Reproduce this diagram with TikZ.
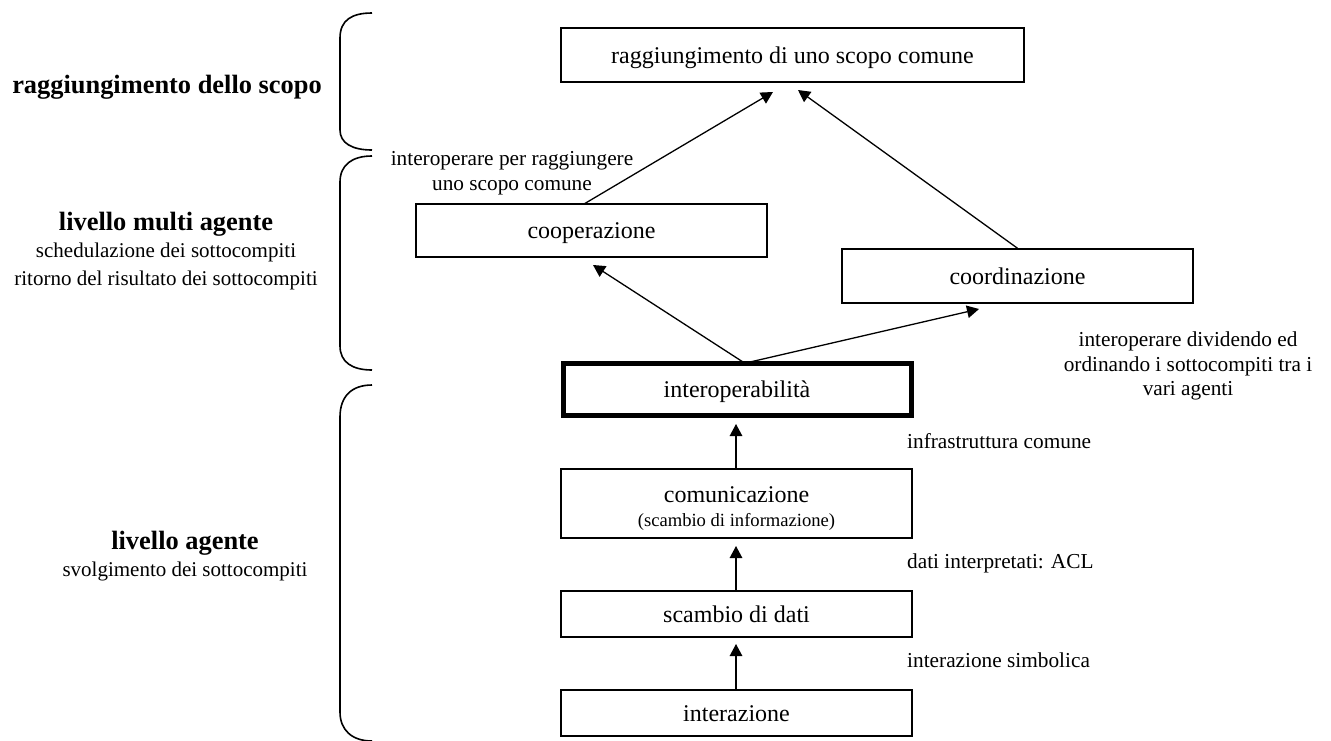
\documentclass[tikz,border=0pt]{standalone}
\usepackage{fontspec}
\setmainfont{Liberation Serif}
\usetikzlibrary{arrows.meta}
\tikzset{
  box/.style={draw, line width=1.5pt, inner sep=0pt, text height=16pt, text depth=0pt, font=\fontsize{24}{28}\selectfont},
  thickbox/.style={box, line width=5pt},
  lbl/.style={inner sep=0pt, font=\fontsize{21.3}{24.5}\selectfont, align=center},
  head/.style={inner sep=0pt, font=\fontsize{21}{27.5}\selectfont, align=center},
  arr/.style={line width=1.3pt, -{Triangle[length=12pt,width=12.5pt]}},
  brace/.style={line width=1.6pt}
}
\begin{document}
\begin{tikzpicture}[x=1pt,y=-1pt]
\useasboundingbox (0,0) rectangle (1331,740);

% boxes
\node[box, minimum width=463pt, minimum height=54pt] (goal) at (792.5,55) {raggiungimento di uno scopo comune};
\node[box, minimum width=351pt, minimum height=53pt] (coop) at (591.5,230.5) {cooperazione};
\node[box, minimum width=351pt, minimum height=54pt] (coord) at (1017.5,276) {coordinazione};
\node[thickbox, minimum width=348pt, minimum height=52pt] (interop) at (737,389.5) {interoperabilità};
\node[box, minimum width=351pt, minimum height=69pt] (comm) at (736.5,503.5) {};
\node[inner sep=0pt, align=center, font=\fontsize{24}{28}\selectfont] (commtxt) at (736.5,508.5) {comunicazione\\[-4pt]{\fontsize{18.6}{20}\selectfont (scambio di informazione)}};
\node[box, minimum width=351pt, minimum height=46pt] (data) at (736.5,614) {scambio di dati};
\node[box, minimum width=351pt, minimum height=46pt] (inter) at (736.5,713) {interazione};

% arrow end coordinates
\coordinate (t1) at (773,92);
\coordinate (t2) at (798,90);
\coordinate (s1) at (584,204);
\coordinate (t3) at (593,265);
\coordinate (t4) at (979,309);
\coordinate (s2) at (743,362);
\coordinate (s3) at (750,362);

\draw[arr] (s1) -- (t1);
\draw[arr] (coord.north) -- (t2);
\draw[arr] (s2) -- (t3);
\draw[arr] (s3) -- (t4);
\draw[arr] (inter.north -| 736,0) -- (736,644);
\draw[arr] (data.north -| 736,0) -- (736,546);
\draw[arr] (comm.north -| 736,0) -- (736,424);

% right labels
\node[lbl, anchor=west] (l1) at (907,441) {infrastruttura comune};
\node[lbl, anchor=west] (l2) at (907,563) {dati interpretati: ACL};
\node[lbl, anchor=west] (l3) at (907,660) {interazione simbolica};
\node[lbl] (l4) at (1188,366) {interoperare dividendo ed\\ordinando i sottocompiti tra i\\vari agenti};
\node[lbl] (l5) at (512,173) {interoperare per raggiungere\\uno scopo comune};

% left labels
\node[head] (h1) at (167,87) {\fontsize{26.4}{30}\selectfont\bfseries raggiungimento dello scopo};
\node[head] (h2) at (166,251) {{\fontsize{26.4}{30}\selectfont\bfseries livello multi agente}\\schedulazione dei sottocompiti\\ritorno del risultato dei sottocompiti};
\node[head] (h3) at (185,556) {{\fontsize{26.4}{30}\selectfont\bfseries livello agente}\\svolgimento dei sottocompiti};

% brackets
\draw[brace] (372,13) .. controls (352,13) and (340,20) .. (340,38) -- (340,130) .. controls (340,143) and (352,150) .. (372,150);
\draw[brace] (372,156) .. controls (352,156) and (340,165) .. (340,182) -- (340,346) .. controls (340,362) and (352,370) .. (372,370);
\draw[brace] (372,385) .. controls (352,385) and (340,396) .. (340,417) -- (340,712) .. controls (340,730) and (352,741) .. (372,741);
\end{tikzpicture}
\end{document}
